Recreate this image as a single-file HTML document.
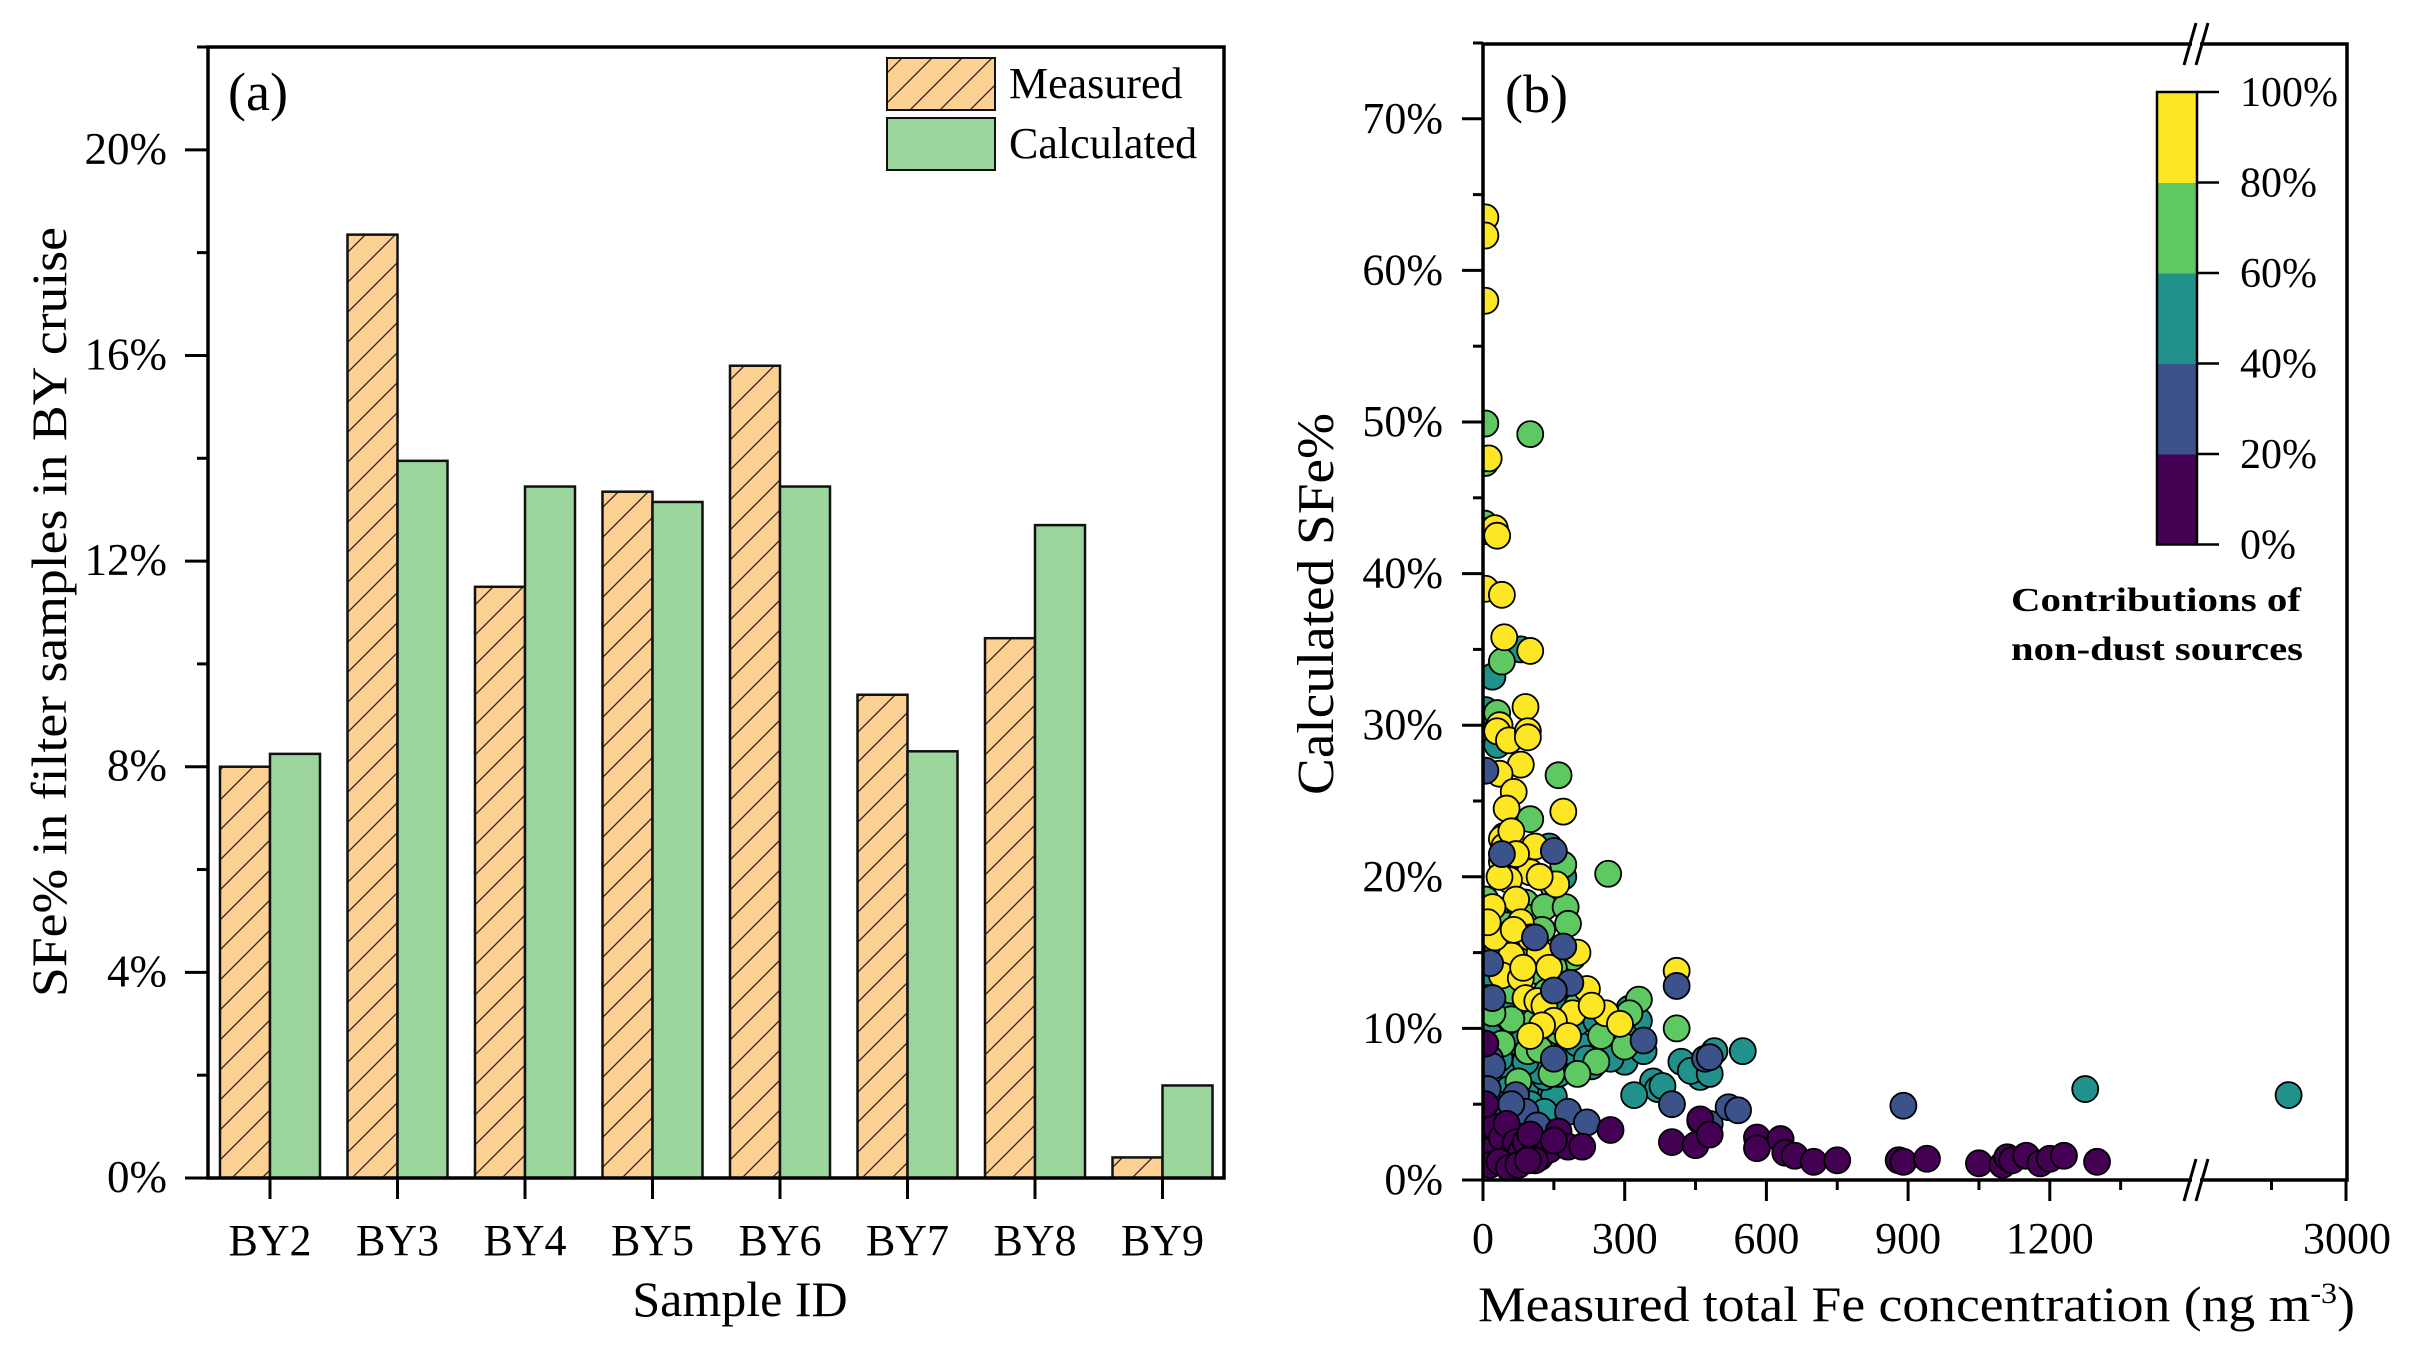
<!DOCTYPE html>
<html><head><meta charset="utf-8"><style>
html,body{margin:0;padding:0;background:#fff}
svg, svg text, svg tspan{font-family:"Liberation Serif","Times New Roman",Times,serif !important}
</style></head><body>
<svg id="root" width="2415" height="1353" viewBox="0 0 2415 1353" xmlns="http://www.w3.org/2000/svg" font-family="Liberation Serif, Times New Roman, serif">
<defs>
<pattern id="hatch" patternUnits="userSpaceOnUse" width="30" height="30">
<rect width="30" height="30" fill="#fdd093"/>
<path d="M-8,38 L38,-8 M-38,38 L8,-8 M22,38 L68,-8" stroke="#222" stroke-width="1.3"/>
</pattern>
<clipPath id="clipb"><rect x="1483" y="44" width="864" height="1136"/></clipPath>
</defs>
<g id="pa"></g>
<g id="pb"></g>
</svg>
<script>
const NS="http://www.w3.org/2000/svg";
// ---------- Panel (a) data ----------
const sampleIds=["BY2","BY3","BY4","BY5","BY6","BY7","BY8","BY9"];
const measuredVals=[8.0,18.35,11.5,13.35,15.8,9.4,10.5,0.4];
const calculatedVals=[8.25,13.95,13.45,13.15,13.45,8.3,12.7,1.8];
const yTicksA=[0,4,8,12,16,20];
const yTickLabelsA=["0%","4%","8%","12%","16%","20%"];
// ---------- Panel (b) data ----------
const colorClasses=["#440154","#3b528b","#21918c","#5ec962","#fde725"];
const cbLabels=["0%","20%","40%","60%","80%","100%"];
const xTicksB=[0,300,600,900,1200,3000];
const xTickLabelsB=["0","300","600","900","1200","3000"];
const yTicksB=[0,10,20,30,40,50,60,70];
const yTickLabelsB=["0%","10%","20%","30%","40%","50%","60%","70%"];
// points: [Fe ng m-3, SFe %]
const tealPts=[[80,35],[20,33.2],[5,31],[30,28.7],[25,17.8],[15,11.2],[15,9.5],[5,7],[25,13.3],[60,8.5],[75,7.3],[100,7],[110,6.5],[120,5.5],[150,5.5],[90,6],[130,6.8],[160,7],[180,8.5],[190,10.7],[200,9],[230,7.5],[250,10],[280,9],[300,7.8],[310,11.3],[330,10.5],[340,8.5],[360,6.5],[370,6],[380,6.2],[320,5.6],[420,7.8],[460,6.8],[470,7.5],[490,8.5],[550,8.5],[440,7.2],[480,7],[1275,6],[2420,5.6],[145,12],[170,11.5],[200,10.4],[220,8],[270,8],[300,9.5],[150,7.4],[120,7.2],[50,9],[10,5.5],[10,12],[140,22],[170,20],[60,10.5],[80,9],[100,5],[130,4.5],[40,6.5],[65,7],[35,8],[210,12],[240,10.5],[45,11],[70,5],[20,4.5],[90,7.8],[160,10],[55,6]];
const bluePts=[[5,27],[40,21.5],[150,21.7],[170,15.4],[185,13],[110,16],[15,14.3],[20,12],[15,8],[20,7.5],[5,3.3],[30,5],[70,5.6],[90,4.5],[130,3.2],[180,4.5],[220,3.8],[410,12.8],[340,9.2],[400,5],[460,3.9],[480,3.7],[520,4.8],[540,4.6],[470,8],[480,8.1],[890,4.9],[10,6],[60,5],[150,8],[115,3.6],[150,12.5]];
const greenPts=[[5,49.9],[5,47.3],[100,49.2],[3,43.3],[3,42.8],[40,34.2],[30,30.8],[160,26.7],[100,23.8],[45,22.7],[265,20.2],[170,20.8],[150,19.3],[5,18.5],[10,16.5],[90,18.3],[100,17.3],[130,18],[175,18],[180,16.9],[190,14.7],[150,14],[110,13.8],[60,12.5],[135,12.4],[200,11.5],[90,11],[110,10.5],[60,10.6],[40,9],[95,8.5],[140,8.4],[240,7.8],[300,8.8],[330,11.9],[310,11],[410,10],[250,9.5],[30,15.5],[50,16.8],[80,15.5],[70,14],[20,11],[160,9.8],[120,8.6],[75,6.5],[145,7],[200,7],[125,16.5],[160,12.8]];
const yellowPts=[[5,63.5],[5,62.3],[5,58],[12,47.6],[25,43],[30,42.5],[5,39],[40,38.6],[45,35.8],[100,34.9],[90,31.2],[35,30],[30,29.6],[55,29],[95,29.6],[95,29.2],[80,27.4],[35,26.8],[65,25.6],[50,24.5],[170,24.3],[40,22.5],[45,22],[40,21],[60,23],[100,20.3],[110,22],[55,19.8],[70,18.5],[155,19.5],[80,17],[100,16],[45,15.4],[60,14.8],[120,15],[40,13.5],[80,13.3],[140,14],[200,15],[220,12.6],[90,12],[115,11.8],[130,11.5],[190,11],[260,11],[230,11.5],[150,10.5],[290,10.3],[410,13.8],[20,18],[25,16],[10,17],[180,9.5],[125,10.2],[100,9.5],[35,20],[70,21.5],[120,20],[85,14],[65,16.5]];
const purplePts=[[5,1.5],[10,2.5],[20,2],[25,3.5],[40,2.8],[50,3.7],[60,1.6],[70,2.5],[80,1.8],[90,2.5],[100,3],[120,1.5],[140,2],[160,3.2],[180,2.2],[210,2.2],[270,3.3],[400,2.5],[450,2.3],[460,4],[480,3],[580,2.8],[580,2.1],[630,2.7],[640,1.8],[660,1.6],[700,1.2],[750,1.3],[880,1.3],[890,1.2],[940,1.4],[1050,1.1],[1100,1.0],[1110,1.5],[1120,1.3],[1150,1.6],[1180,1.1],[1200,1.4],[1230,1.6],[1300,1.2],[15,1],[35,1.2],[55,0.8],[110,1.3],[75,1],[150,2.6],[95,1.3],[5,9],[5,5]];

function el(tag,attrs,parent,text){const e=document.createElementNS(NS,tag);for(const k in attrs)e.setAttribute(k,attrs[k]);if(text!==undefined)e.textContent=text;parent.appendChild(e);return e;}

// ===== Panel A =====
const pa=document.getElementById('pa');
const aL=208,aR=1224,aT=47,aB=1178;
const ya=v=>aB-(v/22)*(aB-aT);
const xa=i=>270+127.5*i;
const bw=50;
sampleIds.forEach((id,i)=>{
  const m=el('rect',{x:xa(i)-bw,y:ya(measuredVals[i]),width:bw,height:aB-ya(measuredVals[i]),fill:'url(#hatch)',stroke:'#111','stroke-width':2.5},pa);
  
  
  const c=el('rect',{x:xa(i),y:ya(calculatedVals[i]),width:bw,height:aB-ya(calculatedVals[i]),fill:'#9dd69d',stroke:'#111','stroke-width':2.5},pa);
  
  
  el('line',{x1:xa(i),x2:xa(i),y1:aB,y2:aB+21,stroke:'#000','stroke-width':3},pa);
  const lb=el('text',{x:xa(i),y:1255,'font-size':44,'text-anchor':'middle'},pa,id);
  
  
});
for(let v=0;v<=22;v+=2){
  const major=v%4===0;
  el('line',{x1:aL-(major?23:11),x2:aL,y1:ya(v),y2:ya(v),stroke:'#000','stroke-width':3},pa);
}
yTicksA.forEach((v,i)=>{
  const t=el('text',{x:167,y:ya(v)+14,'font-size':45,'text-anchor':'end'},pa,yTickLabelsA[i]);
  
  
});
const fa=el('rect',{x:aL,y:aT,width:aR-aL,height:aB-aT,fill:'none',stroke:'#000','stroke-width':3.5},pa);


let t;
t=el('text',{x:228,y:110,'font-size':54},pa,'(a)');

t=el('text',{x:0,y:0,'font-size':50,'text-anchor':'middle',transform:'translate(66,612) rotate(-90)',textLength:770,lengthAdjust:'spacingAndGlyphs'},pa,'SFe% in filter samples in BY cruise');

t=el('text',{x:740,y:1316,'font-size':50,'text-anchor':'middle'},pa,'Sample ID');

// legend
t=el('rect',{x:887,y:58,width:108,height:52,fill:'url(#hatch)',stroke:'#111','stroke-width':2},pa);

t=el('rect',{x:887,y:118,width:108,height:52,fill:'#9dd69d',stroke:'#111','stroke-width':2},pa);

t=el('text',{x:1009,y:98,'font-size':44},pa,'Measured');

t=el('text',{x:1009,y:158,'font-size':44},pa,'Calculated');


// ===== Panel B =====
const pb=document.getElementById('pb');
const bL=1483,bR=2347,bT=44,bB=1180,brk=2196;
const yb=v=>bB-v*15.16;
const xb=v=>v<=1500?bL+v*(141.7/300):brk+(v-1500)/1500*(bR-brk);
const pg=el('g',{'clip-path':'url(#clipb)'},pb);


[[tealPts,2],[greenPts,3],[yellowPts,4],[bluePts,1],[purplePts,0]].forEach(([arr,cls])=>{
  arr.forEach(p=>{
    const c=el('circle',{cx:xb(p[0]),cy:yb(p[1]),r:13,fill:colorClasses[cls],stroke:'#000','stroke-width':1.8},pg);
    
    
  });
});
const fb=el('rect',{x:bL,y:bT,width:bR-bL,height:bB-bT,fill:'none',stroke:'#000','stroke-width':3.5},pb);


for(let v=0;v<=75;v+=5){
  const major=v%10===0;
  el('line',{x1:bL-(major?21:10),x2:bL,y1:yb(v),y2:yb(v),stroke:'#000','stroke-width':3},pb);
}
yTicksB.forEach((v,i)=>{
  t=el('text',{x:1443,y:yb(v)+14,'font-size':44,'text-anchor':'end'},pb,yTickLabelsB[i]);
  
});
for(let v=0;v<=1350;v+=150){
  const major=v%300===0;
  el('line',{x1:xb(v),x2:xb(v),y1:bB,y2:bB+(major?21:10),stroke:'#000','stroke-width':3},pb);
}
el('line',{x1:xb(2250),x2:xb(2250),y1:bB,y2:bB+10,stroke:'#000','stroke-width':3},pb);
el('line',{x1:xb(3000)-1,x2:xb(3000)-1,y1:bB,y2:bB+21,stroke:'#000','stroke-width':3},pb);
xTicksB.forEach((v,i)=>{
  t=el('text',{x:xb(v),y:1253,'font-size':44,'text-anchor':'middle'},pb,xTickLabelsB[i]);
  
});
// axis breaks
[bT,bB].forEach((yy,k)=>{
  const g=el('g',{},pb);
  
  
  el('rect',{x:brk-4,y:yy-3,width:8,height:6,fill:'#fff'},g);
  el('line',{x1:brk-12,x2:brk,y1:yy+21,y2:yy-21,stroke:'#000','stroke-width':3},g);
  el('line',{x1:brk,x2:brk+12,y1:yy+21,y2:yy-21,stroke:'#000','stroke-width':3},g);
});
// colorbar
const cbX=2157,cbW=40,cbTop=92,cbBin=90.5;
for(let i=0;i<5;i++){
  t=el('rect',{x:cbX,y:cbTop+(4-i)*cbBin,width:cbW,height:cbBin+0.5,fill:colorClasses[i]},pb);
  
}
el('rect',{x:cbX,y:cbTop,width:cbW,height:cbBin*5,fill:'none',stroke:'#000','stroke-width':2.5},pb);
cbLabels.forEach((lab,i)=>{
  const yy=cbTop+(5-i)*cbBin;
  el('line',{x1:cbX+cbW,x2:2219,y1:yy,y2:yy,stroke:'#000','stroke-width':2.5},pb);
  t=el('text',{x:2240,y:yy+14,'font-size':42},pb,lab);
  
});
t=el('text',{x:2011,y:611,'font-size':34,'font-weight':'bold',textLength:290,lengthAdjust:'spacingAndGlyphs'},pb,'Contributions of');

t=el('text',{x:2011,y:660,'font-size':34,'font-weight':'bold',textLength:292,lengthAdjust:'spacingAndGlyphs'},pb,'non-dust sources');

t=el('text',{x:1505,y:112,'font-size':54},pb,'(b)');

t=el('text',{x:0,y:0,'font-size':52,'text-anchor':'middle',transform:'translate(1333,604) rotate(-90)',textLength:382,lengthAdjust:'spacingAndGlyphs'},pb,'Calculated SFe%');

const xt=el('text',{x:1478,y:1321,'font-size':50,textLength:877,lengthAdjust:'spacingAndGlyphs'},pb);


el('tspan',{},xt,'Measured total Fe concentration (ng m');
el('tspan',{dy:-18,'font-size':30},xt,'-3');
el('tspan',{dy:18},xt,')');
</script>
</body></html>
